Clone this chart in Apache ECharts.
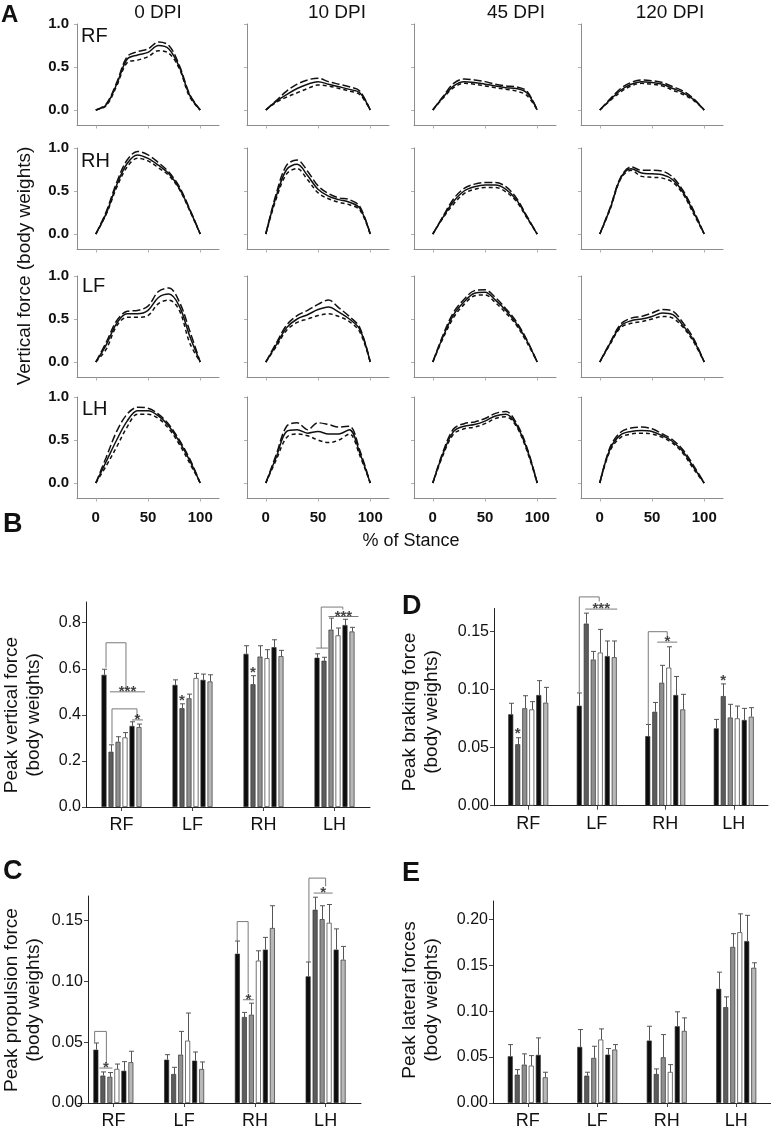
<!DOCTYPE html>
<html><head><meta charset="utf-8">
<script src="https://cdn.jsdelivr.net/npm/echarts@6/dist/echarts.min.js"></script>
<style>html,body{margin:0;padding:0;background:#fff}#c{width:771px;height:1130px}</style>
</head><body><div id="c"></div>
<script>
// ---------- Panel A data ----------
const stanceX = [0,10,20,30,40,50,60,70,80,90,100];
const dpiLabels = ['0 DPI','10 DPI','45 DPI','120 DPI'];
const limbRows = ['RF','RH','LF','LH'];
// each limb: rows = [0 DPI, 10 DPI, 45 DPI, 120 DPI]
const RF_upper = [
 [0,0.07,0.32,0.62,0.68,0.71,0.79,0.75,0.52,0.18,0],
 [0,0.11,0.22,0.30,0.35,0.37,0.33,0.30,0.27,0.22,0],
 [0,0.16,0.31,0.36,0.35,0.33,0.30,0.28,0.27,0.22,0],
 [0,0.13,0.25,0.32,0.35,0.34,0.32,0.27,0.22,0.13,0]];
const RF_mean = [
 [0,0.06,0.30,0.59,0.64,0.67,0.75,0.71,0.50,0.17,0],
 [0,0.10,0.18,0.25,0.30,0.33,0.30,0.27,0.24,0.20,0],
 [0,0.15,0.28,0.33,0.32,0.30,0.28,0.26,0.25,0.20,0],
 [0,0.12,0.23,0.30,0.33,0.32,0.30,0.25,0.20,0.12,0]];
const RF_lower = [
 [0,0.05,0.28,0.55,0.58,0.62,0.69,0.66,0.48,0.15,0],
 [0,0.09,0.15,0.20,0.25,0.29,0.28,0.25,0.22,0.18,0],
 [0,0.14,0.26,0.31,0.30,0.28,0.26,0.24,0.22,0.17,0],
 [0,0.11,0.21,0.28,0.31,0.30,0.28,0.23,0.18,0.11,0]];
const RH_upper = [
 [0,0.26,0.60,0.86,0.96,0.92,0.83,0.72,0.55,0.29,0],
 [0,0.47,0.80,0.86,0.73,0.56,0.47,0.42,0.40,0.32,0],
 [0,0.21,0.41,0.53,0.58,0.60,0.60,0.55,0.42,0.21,0],
 [0,0.31,0.66,0.78,0.74,0.74,0.73,0.66,0.50,0.27,0]];
const RH_mean = [
 [0,0.24,0.57,0.82,0.92,0.88,0.80,0.70,0.53,0.28,0],
 [0,0.44,0.75,0.81,0.68,0.52,0.44,0.40,0.37,0.30,0],
 [0,0.20,0.38,0.50,0.55,0.57,0.57,0.52,0.40,0.20,0],
 [0,0.30,0.65,0.76,0.71,0.70,0.69,0.63,0.48,0.25,0]];
const RH_lower = [
 [0,0.23,0.54,0.78,0.88,0.85,0.77,0.68,0.52,0.27,0],
 [0,0.41,0.70,0.76,0.63,0.48,0.41,0.37,0.34,0.28,0],
 [0,0.19,0.35,0.47,0.52,0.54,0.54,0.49,0.38,0.19,0],
 [0,0.29,0.64,0.74,0.67,0.66,0.65,0.60,0.46,0.23,0]];
const LF_upper = [
 [0,0.23,0.48,0.59,0.60,0.65,0.82,0.86,0.70,0.36,0],
 [0,0.22,0.43,0.54,0.60,0.67,0.72,0.63,0.53,0.40,0],
 [0,0.32,0.58,0.73,0.83,0.84,0.75,0.62,0.47,0.26,0],
 [0,0.23,0.44,0.51,0.53,0.57,0.61,0.59,0.45,0.27,0]];
const LF_mean = [
 [0,0.20,0.45,0.56,0.56,0.60,0.75,0.79,0.65,0.30,0],
 [0,0.20,0.40,0.50,0.55,0.61,0.64,0.58,0.50,0.38,0],
 [0,0.30,0.55,0.70,0.80,0.81,0.72,0.60,0.45,0.25,0],
 [0,0.22,0.42,0.48,0.50,0.53,0.57,0.55,0.42,0.25,0]];
const LF_lower = [
 [0,0.15,0.42,0.52,0.52,0.54,0.68,0.72,0.60,0.22,0],
 [0,0.18,0.37,0.46,0.50,0.54,0.56,0.53,0.47,0.35,0],
 [0,0.28,0.52,0.67,0.77,0.78,0.69,0.57,0.43,0.23,0],
 [0,0.21,0.40,0.45,0.47,0.50,0.53,0.51,0.40,0.23,0]];
const LH_upper = [
 [0,0.30,0.60,0.80,0.88,0.87,0.80,0.68,0.50,0.28,0],
 [0,0.33,0.66,0.70,0.62,0.70,0.68,0.65,0.66,0.38,0],
 [0,0.37,0.63,0.69,0.71,0.75,0.81,0.83,0.70,0.42,0],
 [0,0.42,0.59,0.64,0.65,0.63,0.57,0.50,0.38,0.20,0]];
const LH_mean = [
 [0,0.25,0.50,0.72,0.84,0.84,0.78,0.66,0.48,0.26,0],
 [0,0.30,0.60,0.62,0.58,0.60,0.57,0.57,0.62,0.35,0],
 [0,0.35,0.60,0.66,0.68,0.72,0.78,0.80,0.68,0.40,0],
 [0,0.40,0.56,0.60,0.61,0.60,0.55,0.48,0.36,0.18,0]];
const LH_lower = [
 [0,0.20,0.42,0.65,0.80,0.80,0.75,0.63,0.45,0.23,0],
 [0,0.27,0.53,0.57,0.55,0.50,0.47,0.50,0.57,0.32,0],
 [0,0.33,0.57,0.63,0.65,0.69,0.75,0.77,0.66,0.38,0],
 [0,0.38,0.53,0.57,0.58,0.57,0.53,0.46,0.34,0.16,0]];
const stanceTicks = [0,50,100];
const forceTicks = [0,0.5,1.0];

// ---------- Bar panels data (rows: RF, LF, RH, LH; 6 bars each) ----------
const limbCats = ['RF','LF','RH','LH'];
const vertMean = [[0.574,0.240,0.283,0.302,0.352,0.347],[0.530,0.429,0.472,0.560,0.552,0.545],[0.665,0.533,0.653,0.646,0.694,0.655],[0.648,0.635,0.770,0.745,0.790,0.762]];
const vertSE   = [[0.024,0.030,0.022,0.021,0.018,0.013],[0.022,0.019,0.018,0.020,0.025,0.029],[0.035,0.037,0.047,0.037,0.032,0.025],[0.017,0.015,0.050,0.032,0.025,0.018]];
const brakeMean = [[0.0788,0.053,0.084,0.083,0.0954,0.0888],[0.0862,0.157,0.126,0.132,0.129,0.128],[0.060,0.081,0.106,0.119,0.0954,0.083],[0.0667,0.0945,0.076,0.0753,0.0739,0.0767]];
const brakeSE   = [[0.0095,0.0056,0.0108,0.0067,0.0124,0.0132],[0.011,0.009,0.007,0.020,0.013,0.014],[0.010,0.008,0.015,0.018,0.016,0.013],[0.0077,0.0105,0.0114,0.0106,0.010,0.0078]];
const propMean = [[0.0438,0.0225,0.0215,0.028,0.0265,0.0335],[0.0356,0.0238,0.0397,0.0512,0.0348,0.0279],[0.1226,0.0706,0.0725,0.1169,0.126,0.1437],[0.104,0.1587,0.151,0.148,0.126,0.1177]];
const propSE   = [[0.0055,0.003,0.0035,0.004,0.0075,0.009],[0.0041,0.0055,0.0191,0.0227,0.0071,0.0058],[0.0104,0.0038,0.0095,0.0081,0.010,0.0183],[0.0118,0.0103,0.011,0.015,0.017,0.0109]];
const latMean = [[0.0509,0.0309,0.0418,0.0407,0.0524,0.028],[0.0611,0.0298,0.0491,0.0691,0.0527,0.0582],[0.068,0.0316,0.0498,0.0338,0.0836,0.0785],[0.1244,0.1044,0.170,0.186,0.1764,0.1473]];
const latSE   = [[0.0127,0.0055,0.0117,0.0109,0.0185,0.0055],[0.0189,0.0037,0.0127,0.0116,0.0066,0.0054],[0.0156,0.0055,0.0247,0.008,0.0157,0.0142],[0.0181,0.0112,0.0144,0.020,0.028,0.0054]];
const barColors = ['#0d0d0d','#5c5c5c','#8f8f8f','#ffffff','#0d0d0d','#b8b8b8'];

// significance brackets, x in category units (0 = RF centre), y in data units
const annB = [
 [[-0.218,0.605],[-0.218,0.713],[0.063,0.713],[0.063,0.51]],
 [[-0.162,0.50],[0.331,0.50]],
 [[-0.134,0.275],[-0.134,0.426],[0.218,0.426],[0.218,0.387]],
 [[0.148,0.378],[0.303,0.378]],
 [[2.742,0.69],[2.906,0.69]],
 [[2.813,0.69],[2.813,0.868],[3.117,0.868],[3.117,0.857]],
 [[2.915,0.827],[3.338,0.827]]];
const starsB = [[0.085,0.50,'***'],[0.225,0.378,'*'],[0.852,0.462,'*'],[1.852,0.583,'*'],[3.126,0.827,'***']];
const annD = [
 [[0.745,0.098],[0.745,0.18],[1.036,0.18],[1.036,0.176]],
 [[0.832,0.1695],[1.299,0.1695]],
 [[1.752,0.07],[1.752,0.15],[2.029,0.15],[2.029,0.146]],
 [[1.883,0.141],[2.175,0.141]]];
const starsD = [[1.066,0.1695,'***'],[2.03,0.141,'*'],[-0.153,0.062,'*'],[2.847,0.108,'*']];
const annC = [
 [[-0.265,0.0493],[-0.265,0.0588],[-0.099,0.0588],[-0.099,0.0328]],
 [[-0.198,0.0287],[-0.014,0.0287]],
 [[1.75,0.133],[1.75,0.149],[1.905,0.149],[1.905,0.090]],
 [[1.83,0.0848],[1.986,0.0848]],
 [[2.764,0.1158],[2.764,0.1847],[3.0,0.1847],[3.0,0.178]],
 [[2.83,0.1724],[3.099,0.1724]]];
const starsC = [[-0.106,0.0287,'*'],[1.908,0.0848,'*'],[2.965,0.1724,'*']];

// ---------- build chart ----------
const FONT = '"Liberation Sans", Arial, Helvetica, sans-serif';
const chart = echarts.init(document.getElementById('c'));
const grids = [], xAxes = [], yAxes = [], series = [], graphics = [];
const curves = {RF:[RF_upper,RF_mean,RF_lower], RH:[RH_upper,RH_mean,RH_lower], LF:[LF_upper,LF_mean,LF_lower], LH:[LH_upper,LH_mean,LH_lower]};
const colLeft = [77,247,414,581], zeroY = [110,234,362,483];
const dashStyles = [[8,3],'solid',[4,3]];
limbRows.forEach((limb, r) => {
  dpiLabels.forEach((d, c) => {
    const g = grids.length;
    grids.push({left: colLeft[c], top: zeroY[r]-86, width: 142, height: 101.5});
    xAxes.push({gridIndex: g, type: 'value', min: -18, max: 118,
      axisLine: {show: true, onZero: false, lineStyle: {color: '#8c8c8c', width: 1}},
      axisTick: {show: true, length: 3, customValues: stanceTicks, lineStyle: {color: '#b0b0b0'}},
      axisLabel: {show: r === 3, customValues: stanceTicks, fontSize: 15, fontWeight: 'bold', color: '#111', margin: 12, fontFamily: FONT},
      splitLine: {show: false}});
    yAxes.push({gridIndex: g, type: 'value', min: -0.18, max: 1.0,
      axisLine: {show: true, onZero: false, lineStyle: {color: '#8c8c8c', width: 1}},
      axisTick: {show: true, length: 3, customValues: forceTicks, lineStyle: {color: '#b0b0b0'}},
      axisLabel: {show: c === 0, customValues: forceTicks, formatter: v => v.toFixed(1), fontSize: 15, fontWeight: 'bold', color: '#111', margin: 8, fontFamily: FONT},
      splitLine: {show: false}});
    curves[limb].forEach((arr, k) => {
      series.push({type: 'line', xAxisIndex: g, yAxisIndex: g, smooth: 0.35, symbol: 'none', silent: true,
        data: stanceX.map((x, j) => [x, arr[c][j]]),
        lineStyle: {color: '#111', width: 1.5, type: dashStyles[k]}});
    });
  });
});

const barPanels = [
  {mean: vertMean, se: vertSE, grid: {left: 86, top: 602, width: 284, height: 205}, max: 0.89, ticks: [0,0.2,0.4,0.6,0.8], dec: 1, ann: annB, stars: starsB, off: 0},
  {mean: brakeMean, se: brakeSE, grid: {left: 494, top: 608.5, width: 274, height: 197.2}, max: 0.17, ticks: [0,0.05,0.10,0.15], dec: 2, ann: annD, stars: starsD, off: 0},
  {mean: propMean, se: propSE, grid: {left: 78, top: 896, width: 283, height: 207.3}, max: 0.17, ticks: [0,0.05,0.10,0.15], dec: 2, ann: annC, stars: starsC, off: -10},
  {mean: latMean, se: latSE, grid: {left: 493, top: 901, width: 278, height: 202.4}, max: 0.22, ticks: [0,0.05,0.10,0.15,0.20], dec: 2, ann: [], stars: [], off: 0}
];
barPanels.forEach(p => {
  const g = grids.length;
  grids.push(p.grid);
  const xCat = xAxes.length;
  xAxes.push({gridIndex: g, type: 'category', data: limbCats,
    axisLine: {show: true, onZero: false, lineStyle: {color: '#222', width: 1}},
    axisTick: {show: true, alignWithLabel: true, length: 4, lineStyle: {color: '#444'}},
    axisLabel: {fontSize: 18, color: '#111', margin: 9, fontFamily: FONT},
    splitLine: {show: false}});
  const xVal = xAxes.length;
  xAxes.push({gridIndex: g, type: 'value', min: -0.5, max: 3.5, show: false});
  const y = yAxes.length;
  yAxes.push({gridIndex: g, type: 'value', min: 0, max: p.max, offset: p.off,
    axisLine: {show: true, onZero: false, lineStyle: {color: '#222', width: 1}},
    axisTick: {show: true, length: 4, customValues: p.ticks, lineStyle: {color: '#444'}},
    axisLabel: {customValues: p.ticks, formatter: v => v.toFixed(p.dec), fontSize: 16, color: '#111', margin: 5, fontFamily: FONT},
    splitLine: {show: false}});
  barColors.forEach((col, i) => {
    series.push({type: 'bar', xAxisIndex: xCat, yAxisIndex: y, barWidth: 5, barGap: '40%', silent: true,
      data: p.mean.map(row => row[i]),
      itemStyle: {color: col, borderColor: '#333', borderWidth: 0.7}});
  });
  const errData = [];
  p.mean.forEach((row, c) => row.forEach((m, i) => errData.push([c, i, m, p.se[c][i]])));
  series.push({type: 'custom', xAxisIndex: xCat, yAxisIndex: y, silent: true, z: 4,
    encode: {x: 0, y: 2},
    data: errData,
    renderItem: (params, api) => {
      const c = api.value(0), i = api.value(1), m = api.value(2), s = api.value(3);
      const base = api.coord([c, m]);
      const top = api.coord([c, m + s]);
      const x = Math.round(base[0] + (i - 2.5) * 7) + 0.5;
      const st = {stroke: '#555', lineWidth: 1};
      return {type: 'group', children: [
        {type: 'line', shape: {x1: x, y1: base[1], x2: x, y2: top[1]}, style: st},
        {type: 'line', shape: {x1: x - 2.5, y1: top[1], x2: x + 2.5, y2: top[1]}, style: st}
      ]};
    }});
  p.ann.forEach(poly => {
    series.push({type: 'line', xAxisIndex: xVal, yAxisIndex: y, data: poly, symbol: 'none', clip: false, silent: true, z: 5,
      lineStyle: {color: '#7a7a7a', width: 1}});
  });
  if (p.stars.length) {
    series.push({type: 'scatter', xAxisIndex: xVal, yAxisIndex: y, symbolSize: 1, clip: false, silent: true, z: 6,
      itemStyle: {color: 'rgba(0,0,0,0)'},
      data: p.stars.map(s => ({value: [s[0], s[1]], name: s[2]})),
      label: {show: true, position: 'inside', formatter: q => q.name, fontSize: 15, fontWeight: 'bold', color: '#111', fontFamily: FONT}});
  }
});

// free text
const txt = (x, y, text, font, align, rot) => graphics.push({type: 'text', x, y, rotation: rot || 0, silent: true,
  style: {text, font, fill: '#111', textAlign: align || 'center', textVerticalAlign: 'middle', lineHeight: 22}});
txt(1, 15, 'A', 'bold 24px ' + FONT, 'left');
txt(3, 525, 'B', 'bold 27px ' + FONT, 'left');
txt(3, 872, 'C', 'bold 27px ' + FONT, 'left');
txt(402, 607, 'D', 'bold 27px ' + FONT, 'left');
txt(402, 874, 'E', 'bold 27px ' + FONT, 'left');
[158, 337, 516, 670].forEach((x, i) => txt(x, 13, dpiLabels[i], '19px ' + FONT));
[[81,36],[81,161],[82,286],[82,409]].forEach((p, i) => txt(p[0], p[1], limbRows[i], '20px ' + FONT, 'left'));
txt(411, 541, '% of Stance', '18px ' + FONT);
txt(25, 266, 'Vertical force (body weights)', '19px ' + FONT, 'center', Math.PI / 2);
txt(23, 715, 'Peak vertical force\n(body weights)', '19px ' + FONT, 'center', Math.PI / 2);
txt(421, 712, 'Peak braking force\n(body weights)', '19px ' + FONT, 'center', Math.PI / 2);
txt(23, 1000, 'Peak propulsion force\n(body weights)', '19px ' + FONT, 'center', Math.PI / 2);
txt(421, 1000, 'Peak lateral forces\n(body weights)', '19px ' + FONT, 'center', Math.PI / 2);

chart.setOption({
  animation: false,
  backgroundColor: '#fff',
  grid: grids, xAxis: xAxes, yAxis: yAxes, series: series,
  graphic: graphics
});
</script></body></html>
